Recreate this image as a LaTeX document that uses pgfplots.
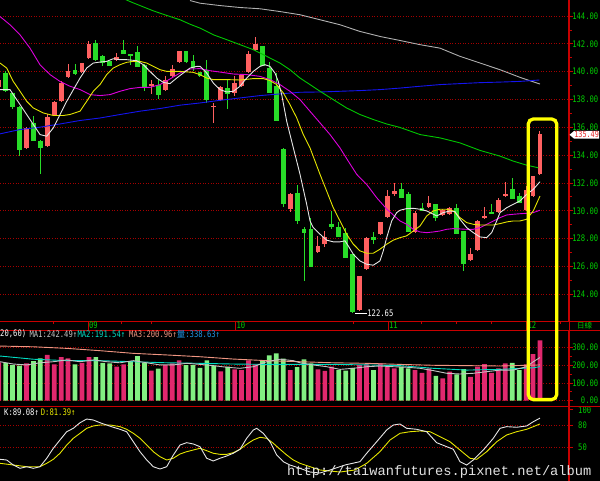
\documentclass[border=0pt]{standalone}
\usepackage{graphicx}
\usepackage{pgfplots}
\pgfplotsset{compat=1.18}
\usepackage{pgfplotstable}
\usepackage{fontspec}
\setmainfont{DejaVu Sans Mono}
\newfontfamily\cjk{Noto Sans CJK TC}
\newfontfamily\wmfont{Liberation Mono}
\newcommand{\nar}[1]{\scalebox{0.8}[1]{#1}}
\newcommand{\pf}{\fontsize{9}{10}\selectfont}

\definecolor{cup}{RGB}{255,96,96}
\definecolor{cdn}{RGB}{40,220,40}
\definecolor{vup}{RGB}{225,40,110}
\definecolor{vdn}{RGB}{130,240,130}
\definecolor{gridred}{RGB}{165,0,0}
\definecolor{axred}{RGB}{200,0,0}
\definecolor{lblgreen}{RGB}{0,205,0}
\definecolor{maW}{RGB}{230,230,230}
\definecolor{maY}{RGB}{230,230,0}
\definecolor{maM}{RGB}{220,0,220}
\definecolor{maG}{RGB}{0,200,0}
\definecolor{maB}{RGB}{20,20,240}
\definecolor{maS}{RGB}{175,175,175}
\definecolor{vmaA}{RGB}{195,195,195}
\definecolor{vmaB}{RGB}{0,220,195}
\definecolor{vmaC}{RGB}{240,150,130}
\definecolor{volblue}{RGB}{30,150,230}
\definecolor{tagred}{RGB}{230,40,40}
\definecolor{wm}{RGB}{225,225,225}
\definecolor{hl}{RGB}{255,255,0}

\pgfplotstableread{
i o h l c
0 138.87 139.45 138.80 139.38
4 134.50 136.00 134.45 135.96
7 134.64 136.94 134.60 136.74
8 136.92 137.90 136.90 137.80
9 137.87 139.30 137.85 139.18
10 139.59 140.54 139.55 140.07
12 139.95 140.65 139.90 140.60
13 140.97 142.17 140.95 141.98
17 140.86 141.33 140.80 141.02
22 138.95 139.42 138.39 139.10
24 138.71 139.66 138.70 139.38
25 139.66 140.45 139.60 140.19
26 140.67 141.50 140.60 141.46
31 137.45 137.75 136.32 137.55
32 137.94 138.95 137.90 138.92
34 138.47 139.66 138.28 139.18
35 138.95 139.78 138.90 139.73
36 139.97 141.46 139.95 141.26
37 141.53 142.46 141.50 141.98
42 130.11 131.30 129.94 131.18
46 127.05 128.20 127.00 127.48
47 127.59 128.53 127.41 128.12
52 122.89 125.35 122.85 125.33
53 125.81 128.12 125.80 128.03
55 128.36 129.22 128.30 129.20
56 129.56 131.47 129.50 131.06
57 131.23 132.02 131.06 131.42
60 128.50 129.99 128.45 129.87
62 130.27 131.06 130.20 130.58
64 129.68 130.15 129.60 130.04
65 129.75 130.30 129.70 130.22
68 126.45 127.31 126.40 126.93
69 127.19 129.32 127.15 129.27
70 129.46 130.27 129.40 129.63
72 129.94 130.89 129.90 130.75
73 131.06 132.09 130.99 131.23
76 130.04 131.78 130.00 131.47
77 131.06 132.49 130.99 132.49
78 132.62 135.77 132.60 135.49
}\candup

\pgfplotstableread{
i o h l c
1 139.88 140.02 138.55 138.59
2 138.47 138.50 137.30 137.44
3 137.44 137.50 133.93 134.36
5 136.32 136.80 135.00 135.05
6 135.05 135.10 132.66 134.52
11 140.09 140.57 139.78 139.83
14 142.05 142.24 140.80 140.81
15 141.10 141.22 140.38 140.62
16 140.74 140.76 140.43 140.43
18 141.53 142.24 141.29 141.29
19 141.26 141.28 140.50 141.15
20 141.38 141.86 140.36 140.36
21 140.50 140.52 138.64 138.92
23 139.07 139.43 138.06 138.30
27 141.46 141.48 140.62 140.69
28 140.74 141.17 140.02 140.26
29 139.97 140.00 139.60 139.68
30 140.14 140.86 137.75 137.94
33 138.82 139.38 137.35 138.39
38 141.81 141.83 140.38 140.43
39 140.26 140.67 138.47 138.47
40 138.95 139.90 136.44 136.44
41 134.45 134.50 130.27 130.47
43 131.30 131.85 129.08 129.27
44 128.67 128.84 124.92 128.43
45 128.71 129.46 125.97 125.97
48 129.08 130.00 128.67 128.86
49 128.84 129.20 128.12 128.12
50 128.43 128.79 126.64 126.64
51 126.88 126.90 122.65 122.70
54 128.12 128.48 127.64 127.91
58 131.55 132.02 130.94 130.94
59 131.18 131.37 128.50 128.50
61 130.22 130.58 129.95 129.99
63 130.47 130.50 129.27 129.50
66 130.22 130.51 128.36 128.36
67 128.55 128.55 125.68 126.21
71 129.91 130.47 129.75 129.75
74 131.57 132.33 130.87 130.87
75 131.09 131.30 130.55 130.58
}\canddn

\pgfplotstableread{
i v
0 215
4 210
7 257
8 204
9 245
10 238
12 213
13 245
17 191
18 204
22 169
24 200
25 210
26 227
32 165
34 176
35 172
36 227
37 204
42 172
46 176
47 167
48 191
52 200
53 204
55 210
56 191
57 182
60 172
61 157
62 182
64 126
65 163
68 134
69 192
70 206
71 156
72 182
73 210
76 204
77 262
78 338.63
}\volup

\pgfplotstableread{
i v
1 213
2 200
3 197
5 223
6 238
11 204
14 245
15 213
16 210
19 223
20 251
21 213
23 180
27 200
28 200
29 185
30 227
31 197
33 191
38 223
39 255
40 266
41 236
43 188
44 232
45 210
49 172
50 169
51 185
54 172
58 191
59 182
63 139
66 148
67 178
74 213
75 172
}\voldn

\pgfplotsset{
  panel/.style={
    scale only axis, width=569pt, xmin=0.187, xmax=82.18,
    axis x line=none, axis y line*=right,
    axis line style={axred, line width=1pt},
    xtick=\empty, tick align=outside,
    major tick length=4pt, minor tick length=3pt,
    tick style={axred, line width=0.8pt},
    ymajorgrids,
    major grid style={gridred, line width=0.7pt, dash pattern=on 1pt off 1.6pt},
    /pgf/number format/assume math mode=true,
    clip=true,
  },
  rlabels/.style={yticklabel style={text=lblgreen, font=\pf, anchor=east, inner sep=0pt, xshift=25.5pt}},
}

\begin{document}
\begin{tikzpicture}
\useasboundingbox (0,0) rectangle (600pt,-481pt);
\fill[black] (0,0) rectangle (600pt,-481pt);

% ---------------- price panel ----------------
\begin{axis}[panel, rlabels, at={(0pt,-321pt)}, anchor=south west, height=321pt,
  ymin=122.08, ymax=145.15,
  ytick={124,126,...,144}, minor y tick num=1,
  yticklabel={\nar{\pgfmathprintnumber[fixed,fixed zerofill,precision=2]{\tick}}}]

% wicks
\addplot[draw=none, mark=none, forget plot,
  error bars/.cd, y dir=both, y explicit, error mark=none,
  error bar style={draw=cup, line width=1pt}]
  table[x=i, y=o, y error plus expr=\thisrow{h}-\thisrow{o}, y error minus expr=\thisrow{o}-\thisrow{l}] {\candup};
\addplot[draw=none, mark=none, forget plot,
  error bars/.cd, y dir=both, y explicit, error mark=none,
  error bar style={draw=cdn, line width=1pt}]
  table[x=i, y=o, y error plus expr=\thisrow{h}-\thisrow{o}, y error minus expr=\thisrow{o}-\thisrow{l}] {\canddn};
% bodies
\addplot[draw=none, mark=none, forget plot,
  error bars/.cd, y dir=plus, y explicit, error mark=none,
  error bar style={draw=cup, line width=4.8pt}]
  table[x=i, y=o, y error plus expr=\thisrow{c}-\thisrow{o}] {\candup};
\addplot[draw=none, mark=none, forget plot,
  error bars/.cd, y dir=minus, y explicit, error mark=none,
  error bar style={draw=cdn, line width=4.8pt}]
  table[x=i, y=o, y error minus expr=\thisrow{o}-\thisrow{c}] {\canddn};

% moving averages
\addplot[maS, line width=0.9pt] coordinates {(27.57,145.11)(29.01,144.92)(31.89,144.75)(34.77,144.61)(37.65,144.52)(40.53,144.32)(43.42,144.09)(46.30,143.73)(49.18,143.37)(52.06,142.89)(54.94,142.53)(57.83,142.24)(60.71,141.94)(63.59,141.69)(66.47,141.10)(69.36,140.62)(72.24,140.14)(75.12,139.59)(78.00,139.11)};
\addplot[maB, line width=0.9pt] coordinates {(0.19,135.53)(3.07,135.84)(5.95,136.01)(8.83,136.24)(11.72,136.49)(14.60,136.67)(17.48,136.92)(20.36,137.16)(23.24,137.35)(26.12,137.59)(29.01,137.75)(31.89,137.94)(34.77,138.11)(37.65,138.28)(40.53,138.40)(43.42,138.52)(46.30,138.54)(49.18,138.59)(52.06,138.64)(54.94,138.71)(57.83,138.82)(60.71,138.95)(63.59,139.07)(66.47,139.14)(69.36,139.21)(72.24,139.25)(75.12,139.30)(77.90,139.40)};
\addplot[maG, line width=0.9pt] coordinates {(18.2,145.2)(18.92,145.04)(20.36,144.75)(22.28,144.37)(24.21,144.04)(26.12,143.73)(27.57,143.41)(29.01,143.13)(30.93,142.65)(32.85,142.30)(34.77,141.94)(36.69,141.58)(38.62,141.10)(40.53,140.62)(41.97,140.14)(43.42,139.54)(44.86,139.07)(46.30,138.59)(48.21,137.99)(50.14,137.39)(52.06,136.92)(53.98,136.56)(55.91,136.24)(57.83,135.99)(60.71,135.48)(63.59,135.24)(66.47,134.88)(69.36,134.34)(72.24,133.93)(74.15,133.57)(76.08,133.28)(77.76,133.09)};
\addplot[maM, line width=0.9pt] coordinates {(0.19,143.96)(1.63,143.37)(3.07,142.65)(4.51,141.69)(5.95,140.50)(7.39,139.79)(8.83,139.30)(10.27,138.95)(11.72,138.71)(13.16,138.35)(14.60,138.28)(16.04,138.35)(17.48,138.59)(18.92,138.78)(20.36,138.87)(21.80,138.87)(23.24,139.07)(24.68,139.47)(26.12,139.90)(27.57,140.19)(29.01,140.22)(30.45,140.07)(31.89,139.97)(33.81,139.83)(35.73,139.79)(37.65,139.66)(39.09,139.43)(40.53,139.07)(41.97,138.59)(43.42,137.99)(44.86,137.15)(46.30,136.32)(47.74,135.48)(49.18,134.52)(50.37,133.57)(51.59,132.62)(53.02,131.90)(54.47,130.94)(55.91,130.13)(56.86,129.70)(57.83,129.27)(58.79,129.03)(59.74,128.67)(60.71,128.48)(61.67,128.43)(62.63,128.48)(63.59,128.55)(64.55,128.67)(65.51,128.72)(67.44,128.67)(68.39,128.67)(69.36,128.79)(70.32,129.03)(71.28,129.27)(72.24,129.51)(73.20,129.70)(74.15,129.75)(75.12,129.79)(76.08,129.82)(77.03,129.87)(78.00,130.04)};
\addplot[maY, line width=0.9pt] coordinates {(0.19,140.62)(1.15,140.26)(2.10,139.30)(3.07,138.59)(4.03,137.87)(4.99,137.39)(6.43,137.03)(7.87,136.85)(9.31,136.85)(10.27,136.92)(11.72,137.16)(12.68,137.87)(13.63,138.59)(14.60,139.07)(15.56,139.79)(16.51,140.26)(17.48,140.50)(18.44,140.67)(19.40,140.74)(20.36,140.74)(21.33,140.62)(22.28,140.38)(23.24,140.14)(24.21,140.02)(26.12,140.02)(28.04,139.95)(29.01,139.78)(29.97,139.54)(30.93,139.43)(32.85,139.43)(34.77,139.40)(36.69,139.50)(38.13,139.50)(39.09,139.36)(40.06,139.07)(41.01,138.47)(41.97,137.64)(42.94,136.68)(43.89,135.48)(44.86,134.52)(45.58,133.57)(46.30,132.62)(47.26,131.42)(48.21,130.22)(49.18,129.27)(50.14,128.32)(51.10,127.60)(52.06,127.12)(53.02,126.95)(53.98,126.95)(54.94,127.24)(55.91,127.60)(56.86,127.89)(57.83,128.07)(58.79,128.20)(59.74,128.55)(60.71,128.91)(61.67,129.63)(62.63,129.99)(63.59,130.11)(64.55,130.11)(65.51,129.99)(66.47,129.51)(67.44,129.15)(68.39,129.03)(69.36,128.98)(71.28,128.98)(72.24,129.08)(73.20,129.20)(74.15,129.27)(75.12,129.27)(76.08,129.39)(77.03,129.99)(78.00,131.06)};
\addplot[maW, line width=0.9pt] coordinates {(0.19,138.71)(1.63,138.71)(2.10,138.35)(3.07,137.64)(4.03,136.92)(4.99,136.20)(5.95,135.48)(6.92,135.36)(7.87,135.96)(9.80,137.87)(11.72,139.54)(12.68,140.26)(13.63,140.62)(14.60,140.69)(15.56,140.74)(16.51,140.93)(17.48,140.86)(18.44,140.86)(19.89,140.79)(20.84,140.50)(21.80,140.02)(22.77,139.54)(23.72,139.23)(24.68,139.14)(25.65,139.54)(26.60,139.90)(27.57,140.26)(28.53,140.38)(29.01,140.38)(29.97,139.90)(30.93,139.18)(31.89,138.71)(32.85,138.54)(33.81,138.59)(34.77,138.95)(35.73,139.54)(36.69,140.02)(37.65,140.38)(38.37,140.50)(39.09,140.38)(39.81,139.90)(40.29,139.30)(40.78,138.35)(41.50,136.44)(42.22,135.00)(42.94,133.57)(43.42,132.62)(44.38,130.47)(44.86,129.27)(45.33,128.79)(46.30,128.32)(47.26,127.89)(48.21,127.77)(49.18,127.77)(49.90,127.84)(50.37,127.48)(51.10,126.88)(52.06,126.40)(53.02,126.16)(53.98,126.09)(54.94,126.40)(55.42,127.12)(55.91,128.07)(56.63,129.27)(57.35,129.87)(57.83,130.04)(58.79,130.16)(59.74,130.18)(60.71,130.11)(61.67,129.99)(62.63,129.75)(63.11,129.63)(64.06,129.87)(65.03,129.99)(65.75,129.94)(66.47,129.39)(67.44,128.79)(68.39,128.43)(69.36,128.12)(70.32,128.07)(71.04,128.43)(71.76,129.27)(72.24,129.87)(73.20,130.22)(74.15,130.47)(75.12,130.71)(76.08,131.18)(77.03,131.54)(78.00,132.09)};

\draw[white, line width=0.8pt] (axis cs:51.35,122.65) -- (axis cs:53.0,122.65);
\node[anchor=west, inner sep=0pt, text=white, font=\pf] at (axis cs:53.1,122.65) {\nar{122.65}};
\end{axis}

% ---------------- volume panel ----------------
\begin{axis}[panel, rlabels, at={(0pt,-406.7pt)}, anchor=south west, height=76.7pt,
  ymin=-33.7, ymax=397.2,
  ytick={0,100,200,300}, minor y tick num=1,
  yticklabel={\nar{\pgfmathprintnumber[fixed,fixed zerofill,precision=2]{\tick}}}]
\addplot[ybar, bar width=4.7pt, bar shift=0pt, fill=vup, draw=none, forget plot] table[x=i, y=v] {\volup};
\addplot[ybar, bar width=4.7pt, bar shift=0pt, fill=vdn, draw=none, forget plot] table[x=i, y=v] {\voldn};
\addplot[vmaC, line width=0.9pt] coordinates {(0.19,307)(4.94,303)(9.80,294)(14.60,281)(19.40,266)(24.21,257)(29.01,247)(33.80,234)(38.62,225)(43.42,219)(48.22,213)(53.03,210)(57.83,204)(62.63,199)(67.44,197)(72.24,195)(78.00,201)};
\addplot[vmaB, line width=0.9pt] coordinates {(0.19,251)(2.59,242)(4.99,233)(9.80,225)(14.60,225)(19.40,219)(24.21,213)(29.01,210)(33.80,206)(38.62,204)(43.42,204)(48.22,204)(53.03,201)(57.83,197)(62.63,182)(67.44,172)(72.24,176)(77.04,185)(78.00,191.5)};
\addplot[vmaA, line width=0.9pt] coordinates {(0.19,219)(2.10,206)(4.03,201)(5.95,213)(7.87,219)(9.80,229)(11.72,219)(13.63,229)(15.56,219)(17.48,213)(19.40,225)(21.33,213)(23.24,201)(25.16,201)(27.09,210)(29.01,204)(30.92,197)(32.85,188)(34.77,182)(36.69,191)(38.62,219)(40.53,233)(42.45,225)(43.42,213)(45.33,201)(47.26,191)(49.18,176)(51.10,182)(53.03,191)(54.94,195)(56.86,191)(58.79,188)(60.71,182)(62.63,169)(64.56,154)(66.47,150)(68.39,154)(70.32,163)(72.24,172)(74.15,172)(76.08,191)(77.04,219)(78.00,242.5)};
\end{axis}

% ---------------- KD panel ----------------
\begin{axis}[panel, at={(0pt,-481pt)}, anchor=south west, height=74.3pt,
  ymin=5.92, ymax=104.2,
  ytick={50,80}, extra y ticks={100}, extra y tick style={grid=none},
  minor y tick num=0,
  yticklabel={\nar{\pgfmathprintnumber[fixed,precision=0]{\tick}}},
  yticklabel style={text=lblgreen, font=\pf, anchor=west, inner sep=0pt, xshift=5pt}]
\addplot[maY, line width=0.9pt] coordinates {(0.19,29.3)(2.10,27.1)(4.03,24.8)(5.95,24.8)(6.92,29.3)(7.87,34.6)(8.83,42.6)(9.80,53.5)(10.75,62.4)(11.72,69.0)(12.68,75.6)(13.63,78.7)(14.60,80.0)(16.04,80.0)(17.48,77.8)(18.44,74.3)(19.40,69.0)(20.36,62.4)(21.33,53.5)(22.28,44.7)(23.24,38.1)(24.21,33.7)(25.16,36.0)(26.12,41.6)(27.09,44.7)(28.04,46.9)(29.01,49.2)(29.97,46.0)(30.92,42.6)(31.89,41.2)(32.85,41.2)(33.80,43.4)(34.77,47.9)(35.73,54.5)(36.69,60.2)(37.65,63.7)(38.62,62.4)(39.57,55.8)(40.53,47.9)(41.50,40.3)(42.45,33.7)(43.42,29.3)(46.30,20.5)(49.18,17.8)(51.34,20.5)(53.03,29.3)(54.94,44.7)(56.39,60.2)(57.83,69.0)(59.27,71.1)(60.71,72.1)(62.15,71.1)(63.59,64.5)(65.03,57.9)(66.47,46.9)(67.91,36.0)(68.88,34.6)(70.32,44.7)(71.76,57.9)(73.20,66.8)(74.64,71.1)(76.08,74.3)(77.04,77.8)(78.00,81.39)};
\addplot[maW, line width=0.9pt] coordinates {(0.19,34.6)(1.15,33.7)(2.10,27.1)(3.07,22.7)(4.03,24.8)(4.99,22.7)(5.95,24.8)(6.92,36.0)(7.87,49.2)(8.83,60.2)(9.80,71.1)(10.75,75.6)(11.72,83.0)(12.68,87.9)(13.63,86.6)(14.60,83.0)(15.56,80.0)(16.51,77.0)(17.48,74.3)(18.44,71.1)(19.40,57.9)(20.36,44.7)(21.33,33.7)(22.28,24.8)(23.24,21.8)(24.21,24.8)(25.16,40.3)(26.12,53.5)(27.09,56.6)(28.04,54.9)(29.01,51.3)(29.97,36.0)(30.92,32.4)(31.89,36.0)(32.85,39.0)(33.80,42.6)(34.77,47.9)(35.73,62.4)(36.69,73.4)(37.18,75.6)(38.13,69.0)(39.09,57.9)(40.06,40.3)(41.01,31.5)(41.97,27.1)(43.42,22.7)(44.86,17.8)(46.30,16.5)(47.74,20.5)(49.90,27.1)(52.06,31.5)(53.03,42.6)(54.47,57.9)(55.91,73.4)(56.86,80.0)(57.83,81.3)(58.79,75.6)(60.23,74.3)(61.67,71.1)(63.11,56.6)(64.56,51.3)(65.51,47.9)(66.47,31.5)(67.44,27.1)(68.39,33.7)(69.83,46.9)(71.27,62.4)(72.24,75.6)(73.20,77.8)(74.64,77.0)(76.08,78.7)(77.04,84.4)(78.00,89.08)};
\end{axis}

% ---------------- frame, separators, texts ----------------
\draw[axred, line width=1pt] (0,-321pt) -- (600pt,-321pt);
\draw[axred, line width=1pt] (0,-330pt) -- (600pt,-330pt);
\draw[axred, line width=1pt] (0,-406.7pt) -- (600pt,-406.7pt);
\draw[axred, line width=1pt] (569pt,0) -- (569pt,-481pt);
\foreach \x in {53,121.7,151.7,353,421.7,456.7,491.7,560}
  \draw[axred, line width=0.8pt] (\x pt,-321pt) -- ++(0,-3pt);
\foreach \x/\t in {88.3/09,235.7/10,388.3/11,526.7/12}{
  \draw[axred, line width=1pt] (\x pt,-321pt) -- (\x pt,-330pt);
  \node[anchor=west, inner sep=0pt, text=lblgreen, font=\pf] at (\x pt+0.6pt,-325.6pt) {\nar{\t}};
}
\node[anchor=west, inner sep=0pt, text=lblgreen, font=\cjk\fontsize{7.5}{8}\selectfont] at (577pt,-325.8pt) {日線};

% volume header
\node[anchor=west, inner sep=0pt, text=white, font=\pf] at (0pt,-334pt) {\nar{20,60)}};
\node[anchor=west, inner sep=0pt, text=vmaA, font=\pf] at (29.3pt,-334pt) {\nar{MA1:242.49↑}};
\node[anchor=west, inner sep=0pt, text=vmaB, font=\pf] at (77.3pt,-334pt) {\nar{MA2:191.54↑}};
\node[anchor=west, inner sep=0pt, text=vmaC, font=\pf] at (129pt,-334pt) {\nar{MA3:200.96↑}};
\node[anchor=west, inner sep=0pt, text=volblue, font=\pf] at (176.7pt,-334pt) {{\cjk\fontsize{8.5}{9}\selectfont 量}\nar{:338.63↑}};

% KD header
\node[anchor=west, inner sep=0pt, text=white, font=\pf] at (4pt,-412.2pt) {\nar{K:89.08↑}};
\node[anchor=west, inner sep=0pt, text=maY, font=\pf] at (40.7pt,-412.2pt) {\nar{D:81.39↑}};

% last price tag
\fill[white] (569.5pt,-134.8pt) -- (574pt,-131pt) -- (599pt,-131pt) -- (599pt,-138.6pt) -- (574pt,-138.6pt) -- cycle;
\node[inner sep=0pt, text=tagred, font=\fontsize{8.5}{9}\selectfont] at (586.6pt,-134.8pt) {\nar{135.49}};

% highlight box
\draw[hl, line width=3.3pt, rounded corners=5pt] (528.3pt,-119pt) rectangle (556.7pt,-399.6pt);

% watermark
\node[anchor=base west, inner sep=0pt, text=wm, font=\wmfont\fontsize{13.7}{14}\selectfont] at (287pt,-475pt) {http://taiwanfutures.pixnet.net/album};
\end{tikzpicture}
\end{document}
